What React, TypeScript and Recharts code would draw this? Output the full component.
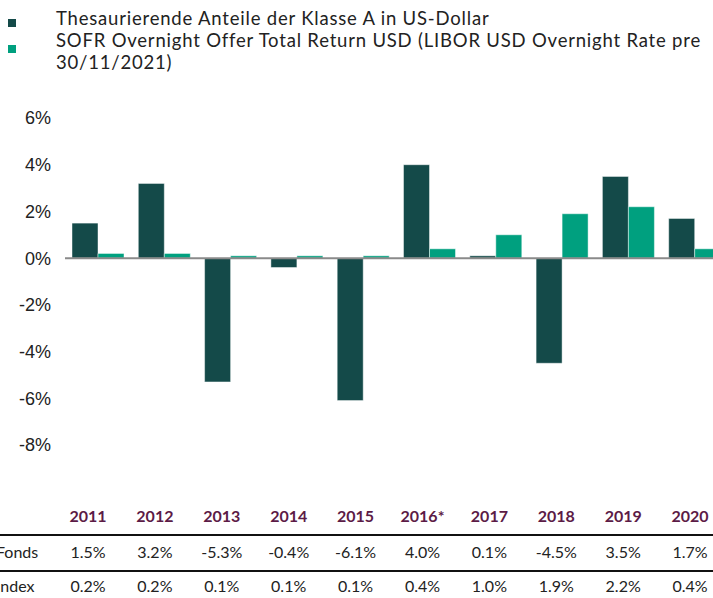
import React from 'react';
import { BarChart, Bar, XAxis, YAxis, ReferenceLine } from 'recharts';

const years = ['2011', '2012', '2013', '2014', '2015', '2016*', '2017', '2018', '2019', '2020'];
const fondsValues = [1.5, 3.2, -5.3, -0.4, -6.1, 4.0, 0.1, -4.5, 3.5, 1.7];
const indexValues = [0.2, 0.2, 0.1, 0.1, 0.1, 0.4, 1.0, 1.9, 2.2, 0.4];
const yTicks = [-8, -6, -4, -2, 0, 2, 4, 6];
const legendLines = [
  ['Thesaurierende Anteile der Klasse A in US-Dollar'],
  ['SOFR Overnight Offer Total Return USD (LIBOR USD Overnight Rate pre', '30/11/2021)'],
];
const rowLabels = ['Fonds', 'Index'];

const DARK = '#144a49';
const GREEN = '#00a07f';
const PURPLE = '#5c1b46';
const FONT = 'Lato, "Noto Sans", sans-serif';
const TICK_FONT = '"Liberation Sans", Arial, sans-serif';

const data = years.map((y, i) => ({ year: y, fonds: fondsValues[i], index: indexValues[i] }));
const fmt = (v: number) => `${v.toFixed(1)}%`;

const colX = (i: number) => 88 + i * 66.9;

export default function App() {
  return (
    <div
      style={{
        position: 'fixed',
        left: 0,
        top: 0,
        width: 713,
        height: 598,
        overflow: 'hidden',
        background: '#fff',
        fontFamily: FONT,
        color: '#222',
      }}
    >
      {/* Legend */}
      {legendLines.map((lines, i) => (
        <div key={i}>
          <div
            style={{
              position: 'absolute',
              left: 8,
              top: i === 0 ? 19 : 45,
              width: 8,
              height: 8,
              background: i === 0 ? DARK : GREEN,
            }}
          />
          <div
            style={{
              position: 'absolute',
              left: 56,
              top: i === 0 ? 6.8 : 29.2,
              fontSize: 18.5,
              lineHeight: '22.3px',
              letterSpacing: 0.8,
              whiteSpace: 'nowrap',
              color: '#222',
            }}
          >
            {lines.map((l, j) => (
              <div key={j}>{l}</div>
            ))}
          </div>
        </div>
      ))}

      <div style={{ position: 'absolute', left: 0, top: 0 }}>
        <BarChart
          width={730}
          height={460}
          data={data}
          margin={{ top: 118, right: 2, bottom: 15, left: 0 }}
          barGap={0}
          barCategoryGap={7}
        >
          <XAxis dataKey="year" hide />
          <YAxis
            width={65}
            domain={[-8, 6]}
            ticks={yTicks}
            axisLine={false}
            tickLine={false}
            tickSize={0}
            tickMargin={14}
            tickFormatter={(v: number) => `${v}%`}
            tick={{ fill: '#222', fontSize: 18, fontFamily: TICK_FONT }}
            interval={0}
          />
          <Bar
            dataKey="fonds"
            fill={DARK}
            stroke="rgba(255,255,255,0.45)"
            strokeWidth={1}
            isAnimationActive={false}
          />
          <Bar
            dataKey="index"
            fill={GREEN}
            stroke="rgba(255,255,255,0.45)"
            strokeWidth={1}
            isAnimationActive={false}
          />
          <ReferenceLine y={0} stroke="#8a8a8a" strokeWidth={2} />
        </BarChart>
      </div>

      {/* Table */}
      {years.map((y, i) => (
        <div
          key={`y${i}`}
          style={{
            position: 'absolute',
            left: colX(i) - 40,
            width: 80,
            top: 505.5,
            lineHeight: '20px',
            textAlign: 'center',
            fontSize: 16,
            fontWeight: 700,
            color: PURPLE,
          }}
        >
          {y}
        </div>
      ))}
      <div style={{ position: 'absolute', left: 0, top: 534, width: 713, height: 2, background: '#111' }} />
      <div style={{ position: 'absolute', left: 0, top: 570, width: 713, height: 2, background: '#111' }} />
      {[fondsValues, indexValues].map((row, r) => (
        <React.Fragment key={`r${r}`}>
          <div
            style={{
              position: 'absolute',
              left: -4,
              top: r === 0 ? 541.5 : 576,
              lineHeight: '20px',
              fontSize: 16,
              color: '#222',
            }}
          >
            {rowLabels[r]}
          </div>
          {row.map((v, i) => (
            <div
              key={i}
              style={{
                position: 'absolute',
                left: colX(i) - 40,
                width: 80,
                top: r === 0 ? 541.5 : 576,
                lineHeight: '20px',
                textAlign: 'center',
                fontSize: 16,
                color: '#222',
              }}
            >
              {fmt(v)}
            </div>
          ))}
        </React.Fragment>
      ))}
    </div>
  );
}
